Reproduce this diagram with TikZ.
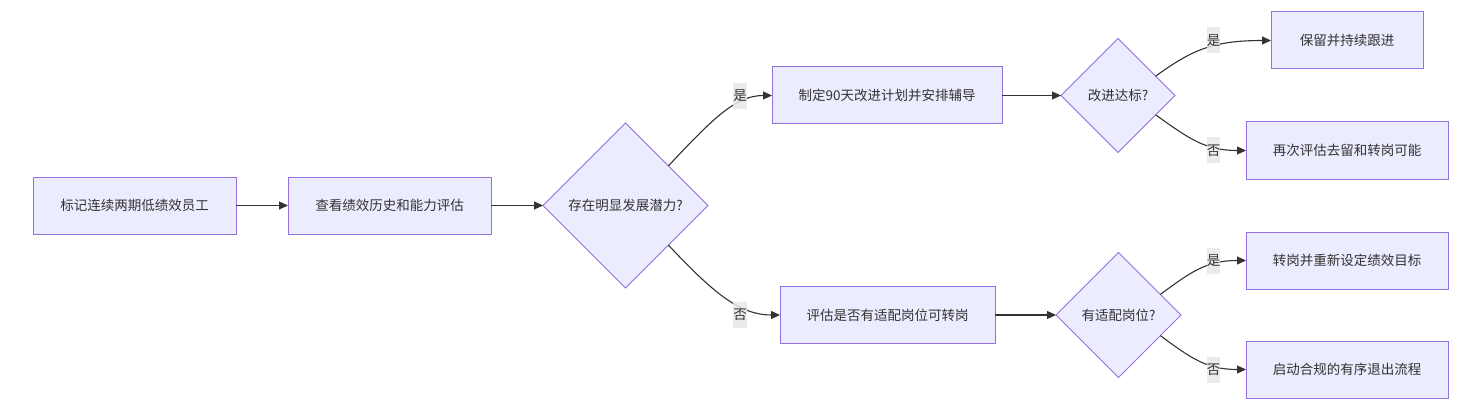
\documentclass[tikz,border=0pt]{standalone}
\usepackage{fontspec}
\setmainfont{Noto Sans CJK SC}
\usetikzlibrary{shapes.geometric,arrows.meta,calc}
\definecolor{nodefill}{HTML}{ECECFF}
\definecolor{nodeline}{HTML}{9370DB}
\definecolor{edgecol}{HTML}{333333}
\definecolor{lblbg}{HTML}{E8E8E8}
\definecolor{txt}{HTML}{333333}
\begin{document}
\begin{tikzpicture}[x=1pt,y=-1pt,
  every node/.style={font=\fontsize{13.5}{16}\selectfont, text=txt, outer sep=0pt},
  box/.style={draw=nodeline, fill=nodefill, line width=1pt, rectangle, minimum height=57pt, inner sep=0pt},
  decision/.style={draw=nodeline, fill=nodefill, line width=1pt, diamond, aspect=1, inner sep=0pt},
  edge/.style={draw=edgecol, line width=1.1pt, -{Triangle[length=9pt,width=8pt]}},
  lbl/.style={fill=lblbg, fill opacity=0.85, text opacity=1, inner xsep=0pt, inner ysep=0pt, minimum width=13pt, minimum height=26pt}
]
\useasboundingbox (0,0) rectangle (1462,409);

% nodes
\node[box, minimum width=203pt] (A) at (134.5,205.5) {标记连续两期低绩效员工};
\node[box, minimum width=203pt] (B) at (389.5,205.5) {查看绩效历史和能力评估};
\node[decision, minimum width=165pt, minimum height=165pt] (C) at (625.5,205.5) {存在明显发展潜力?};
\node[box, minimum width=230pt] (D) at (887,95.5) {制定90天改进计划并安排辅导};
\node[decision, minimum width=114pt, minimum height=114pt] (E) at (1118,95.5) {改进达标?};
\node[box, minimum width=152pt] (F) at (1347,40.5) {保留并持续跟进};
\node[box, minimum width=202pt] (G) at (1347,150.5) {再次评估去留和转岗可能};
\node[box, minimum width=215pt] (H) at (887.5,315) {评估是否有适配岗位可转岗};
\node[decision, minimum width=125pt, minimum height=125pt] (I) at (1118.5,315) {有适配岗位?};
\node[box, minimum width=202pt] (J) at (1347,260.5) {转岗并重新设定绩效目标};
\node[box, minimum width=202pt] (K) at (1347,369.5) {启动合规的有序退出流程};

% start points on diamonds
\coordinate (Cu) at ($(C.north)!0.52!(C.east)$);
\coordinate (Cd) at ($(C.south)!0.52!(C.east)$);
\coordinate (Eu) at ($(E.north)!0.66!(E.east)$);
\coordinate (Ed) at ($(E.south)!0.66!(E.east)$);
\coordinate (Iu) at ($(I.north)!0.67!(I.east)$);
\coordinate (Id) at ($(I.south)!0.67!(I.east)$);

% straight edges
\draw[edge] (A.east) -- (B.west);
\draw[edge] (B.east) -- (C.west);
\draw[edge] (D.east) -- (E.west);
\draw[edge] (H.east) -- (I.west);

% curved edges
\draw[edge] (Cu) .. controls ($(Cu)+(45,-48)$) and ($(D.west)+(-36,0)$) .. (D.west);
\draw[edge] (Cd) .. controls ($(Cd)+(45,48)$) and ($(H.west)+(-40,0)$) .. (H.west);
\draw[edge] (Eu) .. controls ($(Eu)+(35,-25)$) and ($(F.west)+(-60,0)$) .. (F.west);
\draw[edge] (Ed) .. controls ($(Ed)+(35,25)$) and ($(G.west)+(-40,0)$) .. (G.west);
\draw[edge] (Iu) .. controls ($(Iu)+(30,-22)$) and ($(J.west)+(-40,0)$) .. (J.west);
\draw[edge] (Id) .. controls ($(Id)+(30,22)$) and ($(K.west)+(-40,0)$) .. (K.west);

% edge labels
\node[lbl] (l1) at (740,96) {是};
\node[lbl] (l2) at (740,315) {否};
\node[lbl] (l3) at (1213.5,40.5) {是};
\node[lbl] (l4) at (1213.5,150.5) {否};
\node[lbl] (l5) at (1213.5,260.5) {是};
\node[lbl] (l6) at (1213.5,369.5) {否};
\end{tikzpicture}
\end{document}
